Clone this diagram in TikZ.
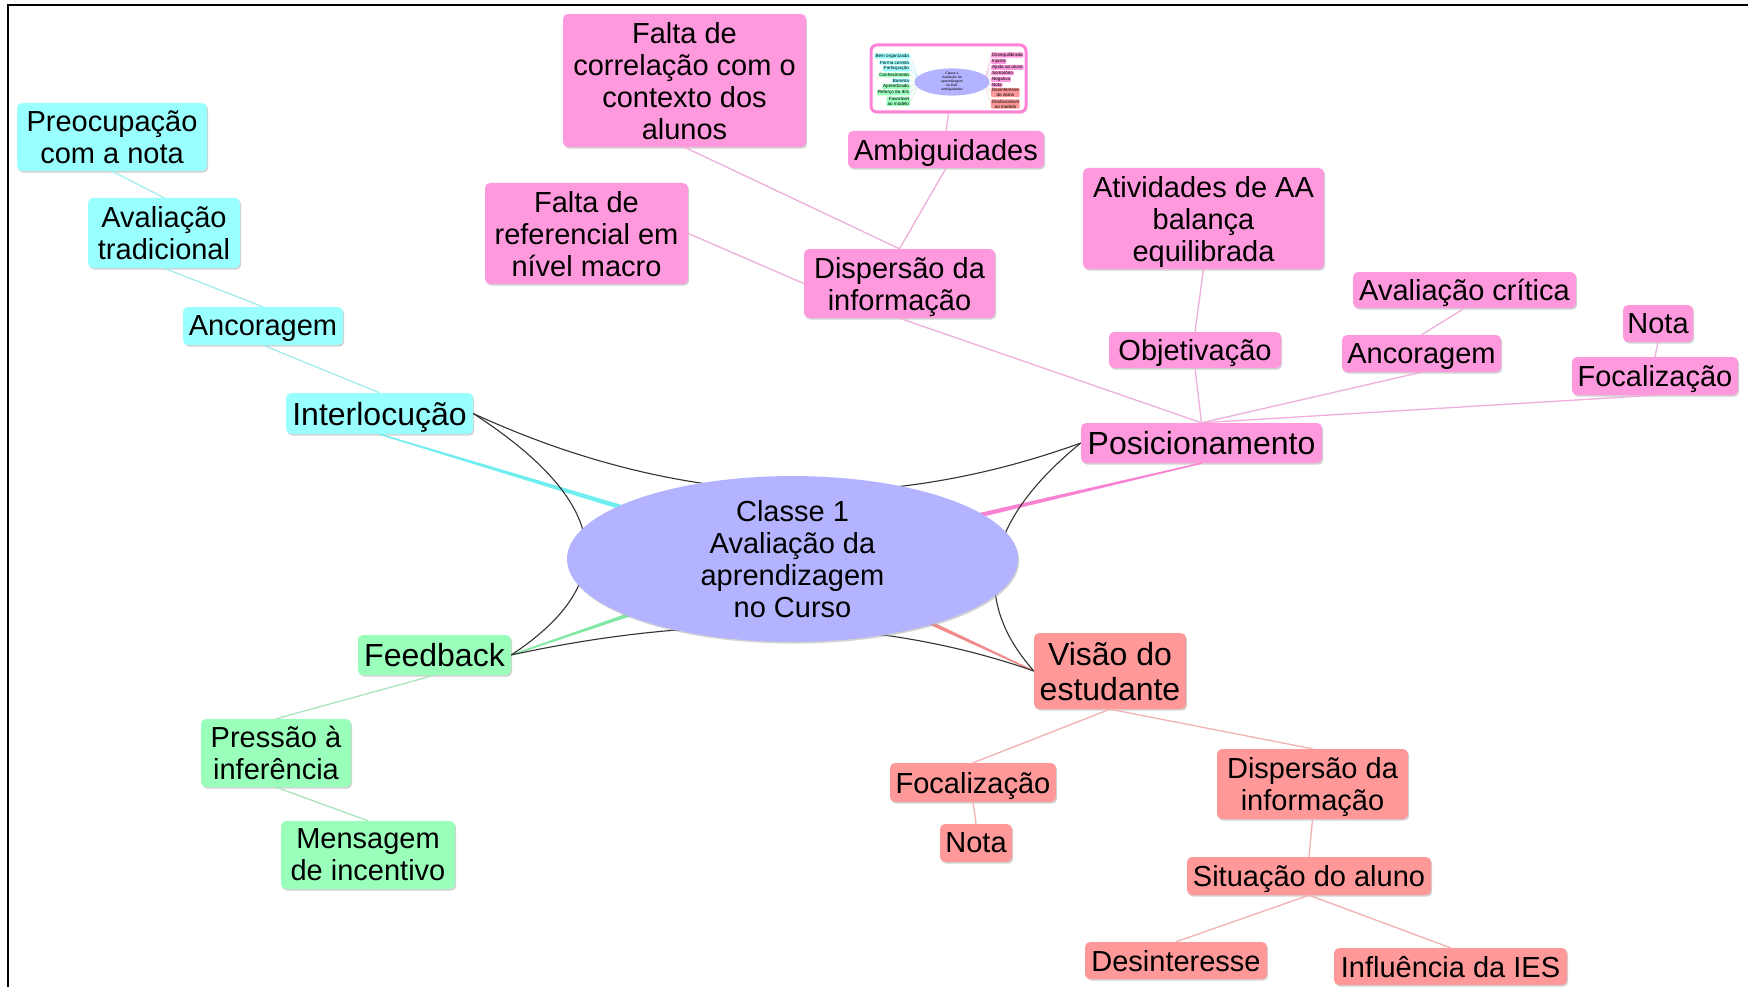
\documentclass[tikz,border=0pt]{standalone}
\usepackage{fontspec}
\setmainfont{Liberation Sans}
\usetikzlibrary{shapes.geometric,shadows,calc}
\definecolor{cyanbox}{RGB}{153,255,255}
\definecolor{pinkbox}{RGB}{255,153,221}
\definecolor{greenbox}{RGB}{153,255,187}
\definecolor{redbox}{RGB}{255,153,153}
\definecolor{rootfill}{RGB}{179,179,255}
\definecolor{cyanline}{RGB}{165,236,236}
\definecolor{pinkline}{RGB}{238,175,218}
\definecolor{greenline}{RGB}{170,228,190}
\definecolor{redline}{RGB}{240,178,178}
\definecolor{cyanthick}{RGB}{110,238,240}
\definecolor{pinkthick}{RGB}{250,130,210}
\definecolor{greenthick}{RGB}{130,232,165}
\definecolor{redthick}{RGB}{242,140,140}
\definecolor{pinkframe}{RGB}{255,130,215}
\newcommand\branchline[3]{\fill[#3] ($(#1)!0.7pt!90:(#2)$) -- ($(#2)!3.5pt!-90:(#1)$) -- ($(#2)!3.5pt!90:(#1)$) -- ($(#1)!0.7pt!-90:(#2)$) -- cycle;}
\tikzset{
  box/.style={rectangle, rounded corners=5pt, inner sep=0pt, align=center, text depth=0pt,
    font=\fontsize{29}{32}\selectfont,
    drop shadow={shadow xshift=1.2pt, shadow yshift=-1.6pt, fill=black!35, opacity=0.5}},
  cbox/.style={box, fill=cyanbox},
  gbox/.style={box, fill=greenbox},
  pbox/.style={box, fill=pinkbox},
  rbox/.style={box, fill=redbox},
  mainf/.style={font=\fontsize{32}{35}\selectfont},
  cedge/.style={draw=cyanline, line width=1.3pt},
  gedge/.style={draw=greenline, line width=1.3pt},
  pedge/.style={draw=pinkline, line width=1.3pt},
  redge/.style={draw=redline, line width=1.3pt},
  fanline/.style={draw=black!80, line width=1.1pt},
  tlab/.style={rectangle, rounded corners=0.8pt, inner xsep=0.8pt, inner ysep=0.4pt,
    font=\fontsize{4.6}{4.9}\selectfont},
  tline/.style={line width=0.3pt},
}
\begin{document}
\begin{tikzpicture}[x=1pt,y=-1pt]
\useasboundingbox (0,0) rectangle (1748,987);
\fill[white] (0,0) rectangle (1748,987);
\draw[line width=2pt] (8,987) -- (8,5) -- (1748,5);

% ---------- cyan branch
\node[cbox, mainf, minimum width=187pt, minimum height=41pt] (inter) at (379.5,413.5) {Interlocução};
\node[cbox, minimum width=160pt, minimum height=38pt] (ancC) at (263,326) {Ancoragem};
\node[cbox, minimum width=152pt, minimum height=70pt] (avtrad) at (164,233) {Avaliação\\tradicional};
\node[cbox, minimum width=190pt, minimum height=68pt] (preoc) at (112,137) {Preocupação\\com a nota};

% ---------- green branch
\node[gbox, mainf, minimum width=153pt, minimum height=40pt] (feed) at (434.5,655) {Feedback};
\node[gbox, minimum width=150pt, minimum height=68pt] (press) at (276,753) {Pressão à\\inferência};
\node[gbox, minimum width=174pt, minimum height=68pt] (mens) at (368,855) {Mensagem\\de incentivo};

% ---------- pink branch
\node[pbox, mainf, minimum width=241pt, minimum height=40pt] (pos) at (1201.5,443) {Posicionamento};
\node[pbox, minimum width=191pt, minimum height=69pt] (disP) at (899.5,283.5) {Dispersão da\\informação};
\node[pbox, minimum width=243pt, minimum height=133pt] (falcor) at (684.5,80.5) {Falta de\\correlação com o\\contexto dos\\alunos};
\node[pbox, minimum width=203pt, minimum height=101pt] (falref) at (586.5,233.5) {Falta de\\referencial em\\nível macro};
\node[pbox, minimum width=196pt, minimum height=37pt] (amb) at (946,149.5) {Ambiguidades};
\node[pbox, minimum width=241pt, minimum height=101pt] (ativ) at (1203.5,218.5) {Atividades de AA\\balança\\equilibrada};
\node[pbox, minimum width=172pt, minimum height=36pt] (objet) at (1195,350) {Objetivação};
\node[pbox, minimum width=159pt, minimum height=37pt] (ancP) at (1421.5,353.5) {Ancoragem};
\node[pbox, minimum width=223pt, minimum height=36pt] (avcrit) at (1464.5,290) {Avaliação crítica};
\node[pbox, minimum width=166pt, minimum height=38pt] (focP) at (1655,376) {Focalização};
\node[pbox, minimum width=70pt, minimum height=37pt] (notaP) at (1658,323.5) {Nota};

% ---------- red branch
\node[rbox, mainf, minimum width=152pt, minimum height=76pt] (visao) at (1110,671) {Visão do\\estudante};
\node[rbox, minimum width=166pt, minimum height=39pt] (focR) at (973,782.5) {Focalização};
\node[rbox, minimum width=72pt, minimum height=38pt] (notaR) at (976,843) {Nota};
\node[rbox, minimum width=191pt, minimum height=70pt] (disR) at (1312.5,784) {Dispersão da\\informação};
\node[rbox, minimum width=244pt, minimum height=38pt] (sit) at (1309,876) {Situação do aluno};
\node[rbox, minimum width=182pt, minimum height=37pt] (desint) at (1176,960.5) {Desinteresse};
\node[rbox, minimum width=233pt, minimum height=37pt] (infl) at (1450.5,966.5) {Influência da IES};

% ---------- thumbnail picture
\node[draw=pinkframe, line width=3pt, fill=white, rounded corners=6pt, minimum width=155pt, minimum height=67pt, inner sep=0pt,
  drop shadow={shadow xshift=1.2pt, shadow yshift=-1.6pt, fill=black!35, opacity=0.5}] (thumb) at (948.5,78.5) {};
\node[tlab, fill=cyanbox, anchor=east, align=right] (tl1) at (910,56) {Bem organizada};
\node[tlab, fill=cyanbox, anchor=east, align=right] (tl2) at (910,62.7) {Forma correta};
\node[tlab, fill=cyanbox, anchor=east, align=right] (tl3) at (910,68.7) {Participação};
\node[tlab, fill=greenbox, anchor=east, align=right] (tl4) at (910,75) {Conhecimento};
\node[tlab, fill=cyanbox, anchor=east, align=right] (tl5) at (910,80.7) {Barema};
\node[tlab, fill=greenbox, anchor=east, align=right] (tl6) at (910,86.7) {Aprendizado};
\node[tlab, fill=greenbox, anchor=east, align=right] (tl7) at (910,92.7) {Reforço da IES};
\node[tlab, fill=greenbox, anchor=east, align=right] (tl8) at (910,101.5) {Favorável\\ao modelo};
\node[tlab, fill=pinkbox, anchor=west, align=left] (tr1) at (991,55) {Desequilibrada};
\node[tlab, fill=pinkbox, anchor=west, align=left] (tr2) at (991,61.3) {Injusta};
\node[tlab, fill=pinkbox, anchor=west, align=left] (tr3) at (991,67.3) {Ajuda ao aluno};
\node[tlab, fill=pinkbox, anchor=west, align=left] (tr4) at (991,73.3) {Somatório};
\node[tlab, fill=pinkbox, anchor=west, align=left] (tr5) at (991,79.3) {Negativa};
\node[tlab, fill=pinkbox, anchor=west, align=left] (tr6) at (991,85) {Nota};
\node[tlab, fill=redbox, anchor=west, align=center] (tr7) at (991,92.5) {Desinteresse\\do aluno};
\node[tlab, fill=redbox, anchor=west, align=center] (tr8) at (991,104) {Desfavorável\\ao modelo};
\coordinate (tlc) at (920,82);
\coordinate (trc) at (984,82);
\foreach \n in {tl1,tl2,tl3,tl5}{\draw[tline, cyanline] (tlc) -- (\n.east);}
\foreach \n in {tl4,tl6,tl7,tl8}{\draw[tline, greenline] (tlc) -- (\n.east);}
\foreach \n in {tr1,tr2,tr3,tr4,tr5,tr6}{\draw[tline, pinkline] (trc) -- (\n.west);}
\foreach \n in {tr7,tr8}{\draw[tline, redline] (trc) -- (\n.west);}
\node[ellipse, fill=rootfill, minimum width=75pt, minimum height=25pt, inner sep=0pt, align=center,
  font=\fontsize{3.4}{4}\selectfont] (troot) at (952,82) {Classe 1\\Avaliação da\\aprendizagem\\na EaD\\ambiguidades};

% ---------- thin edges
\draw[cedge] (preoc.south) -- (avtrad.north);
\draw[cedge] (avtrad.south) -- (ancC.north);
\draw[cedge] (ancC.south) -- (inter.north);
\draw[gedge] (feed.south) -- (press.north);
\draw[gedge] (press.south) -- (mens.north);
\draw[pedge] (falcor.south) -- (disP.north);
\draw[pedge] (amb.south) -- (disP.north);
\draw[pedge] (thumb.south) -- (amb.north);
\draw[pedge] (falref.east) -- (disP.west);
\draw[pedge] (disP.south) -- (pos.north);
\draw[pedge] (ativ.south) -- (objet.north);
\draw[pedge] (objet.south) -- (pos.north);
\draw[pedge] (avcrit.south) -- (ancP.north);
\draw[pedge] (ancP.south) -- (pos.north);
\draw[pedge] (notaP.south) -- (focP.north);
\draw[pedge] (focP.south) -- (pos.north);
\draw[redge] (visao.south) -- (focR.north);
\draw[redge] (visao.south) -- (disR.north);
\draw[redge] (focR.south) -- (notaR.north);
\draw[redge] (disR.south) -- (sit.north);
\draw[redge] (sit.south) -- (desint.north);
\draw[redge] (sit.south) -- (infl.north);

% ---------- main branch lines and fan curves
\coordinate (rc) at (792.5,559);
\branchline{inter.south}{rc}{cyanthick}
\branchline{feed.east}{rc}{greenthick}
\branchline{pos.south}{rc}{pinkthick}
\branchline{visao.west}{rc}{redthick}
\draw[fanline] (inter.east) .. controls (675.7,506.7) and (878.3,516.3) .. (pos.west);
\draw[fanline] (inter.east) .. controls (609.7,502) and (622.3,581.7) .. (feed.east);
\draw[fanline] (feed.east) .. controls (708.7,612) and (883,618.3) .. (visao.west);
\draw[fanline] (pos.west) .. controls (984.7,521.3) and (969,597.7) .. (visao.west);

% ---------- root
\node[ellipse, fill=rootfill, minimum width=451pt, minimum height=146pt, inner sep=0pt, align=center,
  font=\fontsize{29}{32}\selectfont,
  drop shadow={shadow xshift=1.2pt, shadow yshift=-1.6pt, fill=black!35, opacity=0.5}] (root) at (rc) {Classe 1\\Avaliação da\\aprendizagem\\no Curso};
\end{tikzpicture}
\end{document}
